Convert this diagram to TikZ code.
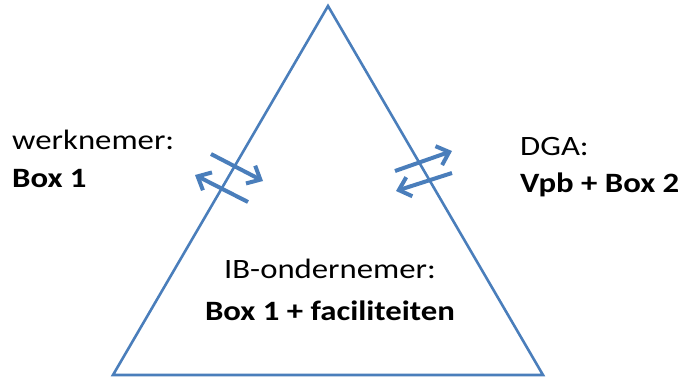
\documentclass[tikz,border=0pt]{standalone}
\usepackage{fontspec}
\setmainfont{Carlito}[FakeStretch=1.17]
\usepackage{tikz}
\usetikzlibrary{arrows.meta, positioning}
\definecolor{triblue}{HTML}{4A7EBB}

\begin{document}
\begin{tikzpicture}[x=1pt, y=-1pt]

        % Setup the styles for the texts and arrows
        \tikzset{plain text/.style={inner sep=0pt,
                                    font=\fontsize{28}{32}\selectfont},
                 bold text/.style={plain text,
                                   font=\fontsize{28}{32}\selectfont\bfseries},
                 flow arrow/.style={draw=triblue,
                                    line width=4pt,
                                    -{Straight Barb[length=11pt, width=20pt]}}}

        \useasboundingbox (0, 0) rectangle (686, 378);

        % Draw the triangle
        \coordinate (top)   at (328, 6);
        \coordinate (left)  at (113, 375);
        \coordinate (right) at (543, 375);
        \draw[triblue, line width=2.6pt, line join=miter] (left) -- (top) -- (right) -- cycle;

        % Draw the texts
        \node[plain text, anchor=base west] at (12, 149)  (werknemer) {werknemer:};
        \node[bold text,  anchor=base west] at (12, 187)  (box1)      {Box 1};
        \node[plain text, anchor=base west] at (520, 155) (dga)       {DGA:};
        \node[bold text,  anchor=base west] at (520, 192) (vpb)       {Vpb + Box 2};
        \node[plain text, anchor=base]      at (330, 278) (ib)        {IB-ondernemer:};
        \node[bold text,  anchor=base]      at (330, 320) (fac)       {Box 1 + faciliteiten};

        % Arrow end points
        \coordinate (a1) at (211, 154);
        \coordinate (a2) at (263, 181);
        \coordinate (b1) at (248, 202);
        \coordinate (b2) at (195, 175);
        \coordinate (c1) at (395, 171);
        \coordinate (c2) at (452, 151);
        \coordinate (d1) at (452, 173);
        \coordinate (d2) at (396, 191);

        % Connect with arrows
        \draw[flow arrow] (a1) -- (a2);
        \draw[flow arrow] (b1) -- (b2);
        \draw[flow arrow] (c1) -- (c2);
        \draw[flow arrow] (d1) -- (d2);
    \end{tikzpicture}
\end{document}
